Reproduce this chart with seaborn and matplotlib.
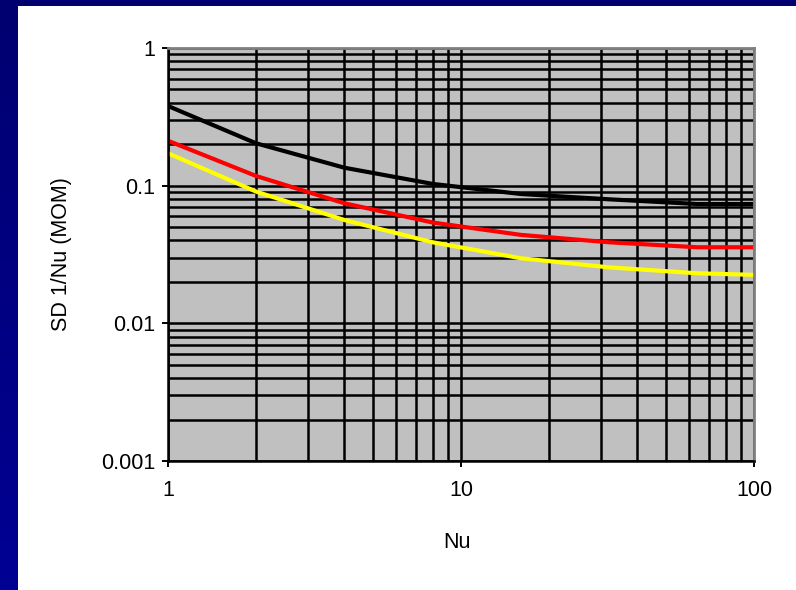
import numpy as np
import pandas as pd
import matplotlib
matplotlib.use("Agg")
import matplotlib.pyplot as plt
from matplotlib.patches import Rectangle
from matplotlib.ticker import LogLocator, NullFormatter, FixedLocator, FixedFormatter
import seaborn as sns

# Nu values at which the standard deviation was evaluated
nu = [1, 2, 4, 8, 16, 32, 64, 100]

# SD of 1/Nu (method of moments) for three cases
sd_black = [0.379, 0.203, 0.135, 0.103, 0.087, 0.0796, 0.0736, 0.0736]
sd_red = [0.212, 0.1175, 0.0745, 0.054, 0.0439, 0.0388, 0.0357, 0.0357]
sd_yellow = [0.172, 0.0905, 0.0563, 0.0388, 0.0297, 0.0255, 0.0231, 0.0225]

series_names = ["black", "red", "yellow"]
series_colors = ["#000000", "#FF0000", "#FFFF00"]

x_ticks = [1, 10, 100]
x_tick_labels = ["1", "10", "100"]
y_ticks = [0.001, 0.01, 0.1, 1]
y_tick_labels = ["0.001", "0.01", "0.1", "1"]

df = pd.DataFrame({
    "Nu": nu * 3,
    "SD": sd_black + sd_red + sd_yellow,
    "series": [s for s in series_names for _ in nu],
})

sns.set_theme(style="white")
plt.rcParams["font.family"] = ["Liberation Sans", "DejaVu Sans"]

W, H = 796, 590
fig = plt.figure(figsize=(W / 100, H / 100), dpi=100)

# Slide backdrop: navy gradient with a white panel
bg = fig.add_axes([0, 0, 1, 1], zorder=-10)
bg.set_xlim(0, W)
bg.set_ylim(H, 0)
bg.axis("off")
grad = np.linspace(0, 1, 256)
navy = np.zeros((256, 1, 3))
navy[:, 0, 2] = 0.44 + 0.14 * grad
bg.imshow(navy, extent=[0, W, H, 0], aspect="auto", interpolation="bilinear")
bg.add_patch(Rectangle((17.5, 5.5), W - 17.5, H - 5.5, facecolor="white", edgecolor="none"))

# Plot area
L, R, T, B = 168, 754, 48, 461
ax = fig.add_axes([L / W, 1 - B / H, (R - L) / W, (B - T) / H])
ax.set_facecolor("#C0C0C0")

sns.lineplot(data=df, x="Nu", y="SD", hue="series", hue_order=series_names,
             palette=series_colors, linewidth=3.0, legend=False, ax=ax,
             estimator=None, sort=True)

ax.set_xscale("log")
ax.set_yscale("log")
ax.set_xlim(1, 100)
ax.set_ylim(0.001, 1)

ax.xaxis.set_major_locator(FixedLocator(x_ticks))
ax.xaxis.set_major_formatter(FixedFormatter(x_tick_labels))
ax.yaxis.set_major_locator(FixedLocator(y_ticks))
ax.yaxis.set_major_formatter(FixedFormatter(y_tick_labels))
ax.xaxis.set_minor_locator(LogLocator(base=10, subs=np.arange(2, 10)))
ax.yaxis.set_minor_locator(LogLocator(base=10, subs=np.arange(2, 10)))
ax.xaxis.set_minor_formatter(NullFormatter())
ax.yaxis.set_minor_formatter(NullFormatter())

ax.set_axisbelow(True)
ax.grid(True, which="both", color="black", linewidth=1.8)

fs = 15.5
ax.tick_params(axis="both", which="major", direction="out", length=4,
               width=1.4, color="black", labelsize=fs, labelcolor="black")
ax.tick_params(axis="y", which="major", pad=5, left=True)
ax.tick_params(axis="x", which="major", pad=10, bottom=True)
ax.tick_params(axis="both", which="minor", length=0)

for side in ["top", "right"]:
    ax.spines[side].set_color("#808080")
    ax.spines[side].set_linewidth(2)
for side in ["left", "bottom"]:
    ax.spines[side].set_color("black")
    ax.spines[side].set_linewidth(1.8)
for sp in ax.spines.values():
    sp.set_visible(True)

ax.set_xlabel("Nu", fontsize=fs, color="black", va="center")
ax.set_ylabel("SD 1/Nu (MOM)", fontsize=fs, color="black", va="center")
ax.xaxis.set_label_coords(0.493, (B - 543) / (B - T))
ax.yaxis.set_label_coords((62 - L) / (R - L), 0.5)

fig.savefig("out.png", dpi=100)
